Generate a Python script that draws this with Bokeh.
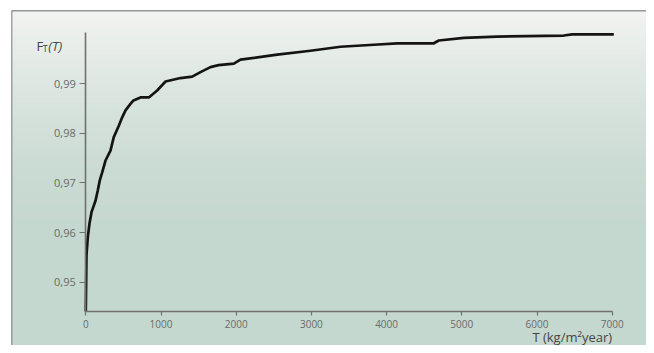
import numpy as np
from bokeh.plotting import figure
from bokeh.models import (LinearAxis, FixedTicker, CustomJSTickFormatter, Range1d,
                          Span, Label)
from bokeh.embed import file_html
from bokeh.resources import INLINE

t_values = [0, 9, 27, 49, 76, 129, 160, 186, 218, 262, 328, 372, 439, 484, 528,
            594, 634, 727, 838, 949, 1060, 1259, 1415, 1525, 1658, 1765, 1968,
            2057, 2545, 2988, 3387, 3830, 4141, 4628, 4694, 5027, 5471, 6356,
            6468, 7021]
f_values = [0.9441, 0.9554, 0.9591, 0.9618, 0.9641, 0.9664, 0.9685, 0.9705,
            0.9721, 0.9745, 0.9765, 0.9792, 0.9815, 0.9832, 0.9846, 0.9859,
            0.9866, 0.9872, 0.9872, 0.9886, 0.9904, 0.9911, 0.9914, 0.9923,
            0.9933, 0.9937, 0.9940, 0.9948, 0.9958, 0.9966, 0.9974, 0.9978,
            0.9981, 0.9981, 0.99866, 0.9992, 0.99946, 0.99966, 0.9999, 0.9999]
x_ticks = [0, 1000, 2000, 3000, 4000, 5000, 6000, 7000]
y_ticks = [0.95, 0.96, 0.97, 0.98, 0.99]
y_axis_bounds = (0.9441, 1.0003)
x_axis_bounds = (0, 7000)

X0, X1 = -988, 7456
Y0, Y1 = 0.93726, 1.0047

p = figure(width=646, height=345, output_backend="svg", toolbar_location=None,
           x_axis_type=None, y_axis_type=None,
           x_range=Range1d(X0, X1), y_range=Range1d(Y0, Y1),
           min_border_left=11, min_border_top=10, min_border_right=0, min_border_bottom=0,
           outline_line_color=None, border_fill_color="white",
           background_fill_color="#c5d9cf")

# vertical background gradient
H = 335
rows = np.arange(H)[::-1]  # row 0 is bottom
py = rows.astype(float)    # 0 = top of frame
t = np.clip(py / 240.0, 0, 1)
t = np.sin(t * np.pi / 2)
top = np.array([243, 244, 242])
bot = np.array([197, 216, 207])
cols = top[None, :] + (bot - top)[None, :] * t[:, None]
img = np.zeros((H, 1), dtype=np.uint32)
view = img.view(dtype=np.uint8).reshape((H, 1, 4))
view[:, 0, 0] = cols[:, 0].astype(np.uint8)
view[:, 0, 1] = cols[:, 1].astype(np.uint8)
view[:, 0, 2] = cols[:, 2].astype(np.uint8)
view[:, 0, 3] = 255
p.image_rgba(image=[img], x=X0, y=Y0, dw=X1 - X0, dh=Y1 - Y0, level="image")

# frame lines (top and left)
p.add_layout(Span(location=Y1, dimension="width", line_color="#404040", line_width=1.5))
p.add_layout(Span(location=X0, dimension="height", line_color="#5a5a5a", line_width=1.5))

font = "Open Sans"
yaxis = LinearAxis(fixed_location=0, bounds=y_axis_bounds,
                   ticker=FixedTicker(ticks=y_ticks),
                   formatter=CustomJSTickFormatter(code="return tick.toFixed(2).replace('.', ',');"),
                   axis_line_color="#707070", axis_line_width=1.6,
                   major_tick_line_color="#707070", major_tick_line_width=1.2,
                   major_tick_out=6, major_tick_in=0, minor_tick_out=0, minor_tick_in=0,
                   major_label_text_font=font, major_label_text_font_size="11px",
                   major_label_text_color="#6a6a6a", major_label_standoff=4)
xaxis = LinearAxis(fixed_location=y_axis_bounds[0], bounds=x_axis_bounds,
                   ticker=FixedTicker(ticks=x_ticks),
                   axis_line_color="#707070", axis_line_width=1.6,
                   major_tick_line_color="#707070", major_tick_line_width=1.2,
                   major_tick_out=4, major_tick_in=0, minor_tick_out=0, minor_tick_in=0,
                   major_label_text_font=font, major_label_text_font_size="10px",
                   major_label_text_color="#6a6a6a", major_label_standoff=4)
p.add_layout(yaxis, "left")
p.add_layout(xaxis, "below")

p.line(t_values, f_values, line_color="#141414", line_width=2.7, line_join="round")

# axis titles
lab_col = "#454545"
p.add_layout(Label(x=-656, y=0.99765, text="F", text_font=font, text_font_size="13px",
                   text_color=lab_col, text_baseline="alphabetic"))
p.add_layout(Label(x=-572, y=0.99710, text="T", text_font=font, text_font_size="9px",
                   text_color=lab_col, text_baseline="alphabetic"))
p.add_layout(Label(x=-500, y=0.99765, text="(T)", text_font=font, text_font_size="13px",
                   text_font_style="italic", text_color=lab_col, text_baseline="alphabetic"))
p.add_layout(Label(x=7044, y=0.93890, text="T  (kg/m\u00b2year)", text_font=font,
                   text_font_size="13px", text_color=lab_col, text_align="right",
                   text_baseline="alphabetic"))

open("out.html", "w").write(file_html(p, INLINE))
